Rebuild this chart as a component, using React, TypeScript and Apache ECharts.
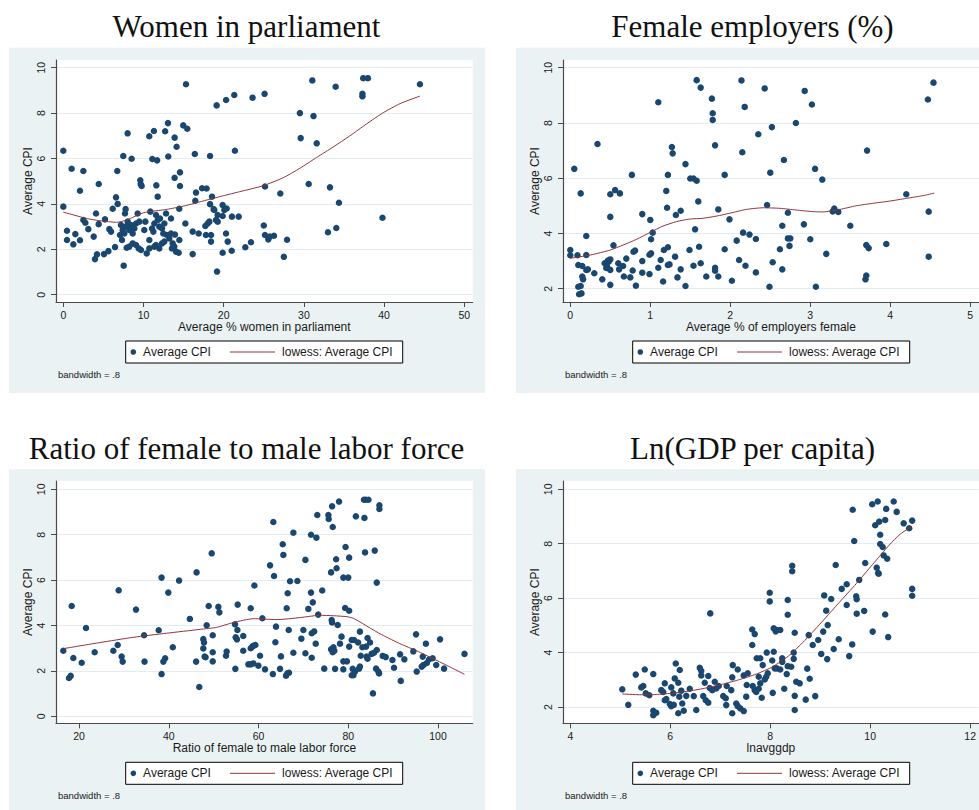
import React, { useEffect, useRef } from "react";
import * as echarts from "echarts";

// ---------- DATA ----------
const titles = [
  "Women in parliament",
  "Female employers (%)",
  "Ratio of female to male labor force",
  "Ln(GDP per capita)",
];
const xNames = [
  "Average % women in parliament",
  "Average % of employers female",
  "Ratio of female to male labor force",
  "lnavggdp",
];
const yName = "Average CPI";
const legendLabels = ["Average CPI", "lowess: Average CPI"];
const noteText = "bandwidth = .8";

const xTicks1 = [0, 10, 20, 30, 40, 50];
const xTicks2 = [0, 1, 2, 3, 4, 5];
const xTicks3 = [20, 40, 60, 80, 100];
const xTicks4 = [4, 6, 8, 10, 12];
const yTicks1 = [0, 2, 4, 6, 8, 10];
const yTicks2 = [2, 4, 6, 8, 10];
const yTicks3 = [0, 2, 4, 6, 8, 10];
const yTicks4 = [2, 4, 6, 8, 10];

const womenPts: [number, number][] = [
  [0, 6.34], [1.04, 5.55], [2.5, 5.45], [6.73, 5.45], [7.48, 6.11], [8.02, 7.11], [8.52, 5.99], [10.72, 6.98],
  [11.1, 5.98], [11.3, 7.21], [11.7, 5.92], [12.7, 7.2], [13.05, 7.56], [13.09, 6.09], [13.88, 6.92], [13.88, 5.15],
  [14.13, 6.52], [14.55, 5.39], [14.96, 7.46], [15.3, 9.27], [15.46, 7.31], [16.4, 6.2], [18.3, 6.11], [19.12, 8.34],
  [20.3, 8.58], [21.32, 8.8], [21.4, 6.34], [23.6, 8.68],
  [25.0, 3.05], [25.1, 8.85], [25.15, 4.77], [25.15, 2.63], [25.56, 2.44], [25.77, 2.56], [26.27, 2.6], [27.06, 4.46],
  [27.5, 1.67], [27.9, 2.42], [29.5, 8.0], [29.6, 6.9], [30.6, 4.88], [31.05, 9.44], [31.2, 7.87], [31.6, 6.67],
  [33.0, 2.75], [33.25, 4.73], [33.96, 9.16], [34.04, 2.94], [34.37, 4.05], [37.3, 8.74], [37.3, 8.85], [37.4, 9.54],
  [37.98, 9.54], [39.8, 3.39], [44.47, 9.27],
  [0, 3.88], [2.08, 4.58], [4.42, 4.88], [0.46, 2.82], [0.46, 2.41], [1.25, 2.22], [1.5, 2.67], [2.08, 2.4],
  [2.5, 3.29], [2.75, 3.17], [3.12, 2.89], [3.79, 2.56], [3.95, 1.57], [4.2, 1.78], [4.08, 3.58], [4.41, 3.11],
  [5.07, 1.79], [5.2, 3.32], [5.62, 1.92], [5.74, 2.89], [5.95, 2.78], [6.16, 3.79], [6.57, 4.29], [6.78, 4.0],
  [6.45, 2.1], [7.53, 1.28], [7.19, 3.07], [7.4, 2.85], [7.07, 2.63], [7.32, 2.41], [7.61, 2.7], [7.82, 3.0],
  [8.03, 3.22], [8.23, 2.85], [8.44, 3.07], [8.65, 2.7], [8.86, 2.92], [9.07, 3.14], [9.27, 3.58], [9.48, 3.22],
  [7.9, 2.07], [8.23, 2.12], [8.65, 2.26], [9.07, 2.19], [9.4, 2.04], [9.69, 1.97], [10.1, 2.85], [10.23, 3.22],
  [10.4, 1.82], [10.73, 2.41], [10.85, 3.66], [11.06, 2.92], [11.23, 2.78], [11.35, 3.14], [11.56, 3.51], [11.77, 3.29],
  [11.97, 3.0], [12.06, 3.36], [12.31, 2.92], [12.47, 2.7], [12.6, 3.14], [12.81, 3.58], [10.73, 2.04], [11.35, 2.12],
  [11.56, 2.19], [11.97, 2.04], [12.31, 2.26], [12.6, 2.34], [12.93, 2.63], [13.22, 2.48], [13.43, 2.7], [13.64, 2.26],
  [13.55, 2.04], [13.84, 2.12], [14.05, 1.9], [14.39, 1.85], [14.47, 2.41], [13.43, 3.36], [13.92, 2.65], [15.22, 3.14],
  [16.13, 2.78], [16.13, 1.79], [16.88, 2.7], [17.71, 3.03], [18.0, 3.14], [18.21, 3.22], [17.79, 2.63], [18.42, 2.63],
  [18.42, 2.34], [18.83, 3.73], [19.04, 3.29], [19.25, 3.51], [19.25, 3.22], [19.87, 3.95], [20.08, 3.73], [20.37, 3.8],
  [19.87, 3.47], [21.03, 3.44], [21.87, 3.44], [20.29, 2.7], [20.5, 2.34], [21.0, 1.94], [19.87, 1.85], [19.17, 1.02],
  [22.7, 2.09], [23.4, 2.31], [16.55, 4.5], [16.46, 4.14], [18.54, 4.32], [17.3, 4.69], [17.87, 4.68], [18.3, 3.99],
  [18.75, 3.77], [14.55, 4.79], [14.46, 3.79], [11.77, 4.32], [11.6, 4.82], [9.6, 5.04], [9.65, 4.88], [9.77, 4.79],
  [7.69, 3.58], [7.77, 3.77],
];
const womenLowess: [number, number][] = [
  [0, 3.64], [2.9, 3.36], [4.57, 3.26], [6.65, 3.19], [7.9, 3.29], [10, 3.61], [12.9, 3.76], [14.96, 3.9],
  [17.87, 4.17], [19.95, 4.36], [22, 4.54], [24.9, 4.8], [27.4, 5.15], [29.5, 5.57], [31.6, 6.05], [33.7, 6.52],
  [35.7, 6.99], [37.8, 7.52], [39.9, 8.02], [42, 8.42], [44.47, 8.75],
];

const employersPts: [number, number][] = [
  [0, 3.4], [0, 3.21], [0.05, 6.34], [0.09, 3.21], [0.1, 2.86], [0.1, 2.07], [0.11, 1.8], [0.13, 5.45],
  [0.14, 1.83], [0.13, 2.1], [0.15, 2.82], [0.15, 2.44], [0.16, 2.34], [0.2, 3.91], [0.2, 3.22], [0.2, 2.68],
  [0.22, 2.7], [0.3, 2.56], [0.34, 7.24], [0.4, 2.34], [0.43, 2.92], [0.46, 2.8], [0.48, 2.98], [0.5, 3.06],
  [0.5, 5.42], [0.5, 4.6], [0.5, 2.14], [0.5, 2.68], [0.54, 3.57], [0.56, 5.57], [0.6, 2.92], [0.61, 2.7],
  [0.62, 5.45], [0.66, 2.82], [0.67, 2.44], [0.7, 3.09], [0.75, 2.41], [0.77, 6.12], [0.78, 2.66], [0.79, 3.34],
  [0.82, 2.11], [0.9, 4.7], [0.9, 3.0], [0.9, 2.58], [0.99, 2.53], [0.99, 3.23], [1.0, 4.49], [1.01, 3.28],
  [1.01, 3.79], [1.03, 4.03], [1.1, 2.76], [1.1, 8.75], [1.13, 3.04], [1.16, 2.26], [1.17, 3.4], [1.2, 5.54],
  [1.21, 4.93], [1.22, 2.86], [1.22, 3.5], [1.22, 6.12], [1.24, 2.88], [1.27, 7.13], [1.28, 6.9], [1.31, 3.16],
  [1.32, 4.67], [1.34, 2.41], [1.38, 4.82], [1.38, 2.7], [1.44, 6.51], [1.44, 2.1], [1.49, 3.4], [1.5, 5.99],
  [1.54, 5.99], [1.56, 4.15], [1.54, 2.83], [1.58, 9.55], [1.58, 5.91], [1.6, 5.16], [1.61, 3.52], [1.63, 2.92],
  [1.63, 9.28], [1.7, 2.44], [1.77, 8.88], [1.78, 8.35], [1.78, 8.11], [1.81, 7.19], [1.81, 2.76], [1.81, 2.65],
  [1.85, 4.87], [1.85, 2.44], [1.93, 6.12], [1.93, 3.43], [1.99, 4.51], [2.02, 2.29], [2.08, 3.74], [2.11, 3.04],
  [2.14, 9.54], [2.15, 6.94], [2.16, 4.03], [2.18, 8.58], [2.19, 2.83], [2.24, 3.96], [2.32, 3.8], [2.32, 2.59],
  [2.35, 7.59], [2.43, 9.25], [2.46, 5.03], [2.49, 2.07], [2.5, 6.2], [2.52, 7.85], [2.53, 2.96], [2.62, 3.43],
  [2.65, 4.28], [2.65, 2.7], [2.67, 6.66], [2.72, 4.75], [2.72, 3.82], [2.74, 3.55], [2.75, 3.82], [2.82, 8.0],
  [2.92, 4.33], [2.93, 9.16], [3.0, 3.79], [3.02, 8.67], [3.06, 6.34], [3.07, 2.07], [3.15, 5.95], [3.2, 3.26],
  [3.28, 4.8], [3.3, 4.9], [3.35, 4.78], [3.5, 4.28], [3.69, 2.34], [3.7, 2.48], [3.7, 3.58], [3.71, 7.0],
  [3.73, 3.47], [3.95, 3.62], [4.2, 5.42], [4.47, 8.85], [4.48, 4.79], [4.48, 3.16], [4.54, 9.46], [0.45, 2.75],
  [0.47, 3.02], [0.81, 3.38],
];
const employersLowess: [number, number][] = [
  [0, 3.1], [0.25, 3.22], [0.5, 3.4], [0.66, 3.58], [0.83, 3.79], [1.0, 4.04], [1.16, 4.27], [1.33, 4.43],
  [1.49, 4.52], [1.66, 4.55], [1.83, 4.63], [1.99, 4.73], [2.2, 4.87], [2.41, 4.93], [2.62, 4.91], [2.82, 4.85],
  [3.03, 4.79], [3.16, 4.78], [3.37, 4.87], [3.57, 5.0], [3.78, 5.09], [3.99, 5.17], [4.2, 5.27], [4.41, 5.37],
  [4.55, 5.46],
];

const laborPts: [number, number][] = [
  [16.5, 2.89], [17.77, 1.69], [18.14, 1.78], [18.37, 4.86], [18.74, 2.57], [20.6, 2.36], [21.56, 3.89], [23.49, 2.82],
  [27.65, 2.89], [28.62, 3.14], [28.84, 5.55], [29.5, 2.63], [29.73, 2.41], [32.7, 4.7], [34.5, 3.57], [34.6, 2.41],
  [37.76, 3.79], [38.4, 6.11], [38.4, 1.86], [38.8, 2.41], [39.2, 2.56], [39.9, 5.45], [40.9, 3.04], [42.3, 5.98],
  [44.7, 4.29], [46.1, 2.41], [46.2, 6.34], [46.8, 1.29], [47.7, 3.4], [47.86, 3.25], [47.7, 2.99], [48.0, 2.63],
  [48.2, 2.6], [48.45, 4.01], [48.9, 4.86], [49.57, 7.18], [49.8, 3.57], [49.8, 2.82], [49.8, 2.42], [51.05, 4.82],
  [51.28, 4.58], [52.76, 2.67], [52.9, 2.85], [54.77, 4.05], [54.92, 3.48], [55.2, 3.39], [54.84, 2.09], [55.3, 3.8],
  [55.36, 4.92], [56.6, 3.54], [56.6, 2.89], [57.74, 2.29], [58.26, 2.29], [58.86, 2.33], [58.26, 4.76], [58.26, 3.0],
  [58.63, 3.07], [58.86, 3.11], [59.3, 3.14], [59.08, 5.76], [59.97, 2.23], [60.34, 2.67], [60.86, 4.32], [61.45, 2.07],
  [62.57, 6.65], [63.3, 8.56], [63.2, 1.86], [63.46, 6.18], [63.76, 3.26], [63.9, 3.95], [64.8, 2.09], [65.0, 2.64],
  [65.4, 7.58], [65.54, 7.11], [66.13, 1.79], [66.43, 1.89], [66.8, 1.92], [66.28, 4.76], [66.5, 5.42], [66.73, 3.8],
  [67.03, 5.95], [67.77, 2.8], [67.77, 8.09], [68.66, 5.96], [69.55, 3.42], [70.0, 3.8], [70.45, 6.89], [70.45, 2.78],
  [71.1, 4.73], [71.7, 8.0], [71.7, 5.45], [71.86, 2.58], [71.86, 3.66], [72.4, 3.74], [72.1, 5.02], [72.75, 3.2],
  [72.9, 7.87], [73.1, 8.87], [73.3, 4.48], [74.2, 5.54], [74.65, 2.1], [75.57, 8.87], [75.65, 8.69], [76.17, 2.95],
  [76.7, 3.04], [76.17, 6.34], [76.3, 4.24], [76.4, 4.13], [76.4, 9.25], [76.54, 8.34], [76.54, 2.82], [76.9, 2.89],
  [77.06, 2.09], [77.3, 6.92], [77.4, 6.52], [77.65, 4.02], [77.95, 9.46], [78.17, 3.2], [78.5, 3.51], [78.9, 6.11],
  [80.0, 6.11], [78.9, 2.42], [79.7, 2.42], [78.9, 2.07], [79.3, 4.77], [79.4, 7.46], [80.2, 4.65], [80.2, 3.07],
  [80.2, 6.99], [80.77, 3.36], [81.3, 3.36], [80.77, 1.81], [81.15, 1.81], [81.5, 1.97], [80.98, 2.09], [81.7, 8.81],
  [82.2, 3.25], [82.6, 3.73], [82.4, 2.1], [82.6, 2.19], [82.78, 2.67], [83.15, 3.04], [83.5, 9.54], [83.9, 9.54],
  [84.5, 9.54], [83.6, 8.74], [83.74, 7.22], [83.97, 3.07], [84.1, 2.63], [84.3, 2.54], [84.3, 3.45], [84.86, 3.25],
  [85.2, 2.75], [85.5, 1.01], [85.75, 2.8], [85.9, 7.3], [86.2, 2.1], [86.35, 5.89], [86.35, 2.92], [86.7, 1.97],
  [86.87, 1.89], [86.94, 9.3], [86.94, 9.13], [87.68, 2.66], [88.35, 2.61], [89.84, 2.48], [90.2, 2.14], [91.55, 2.73],
  [91.7, 1.56], [92.5, 2.51], [94.5, 2.86], [95.1, 3.61], [95.26, 1.97], [96.37, 2.19], [96.75, 2.26], [96.6, 2.63],
  [97.3, 3.2], [97.5, 2.35], [98.0, 2.5], [98.8, 2.56], [99.6, 2.26], [100.46, 3.39], [101.35, 2.1], [105.9, 2.75],
];
const laborLowess: [number, number][] = [
  [16.5, 2.98], [24.7, 3.25], [32.1, 3.48], [39.5, 3.66], [47.0, 3.83], [50.7, 3.92], [54.4, 4.13], [58.9, 4.3],
  [64.1, 4.26], [69.3, 4.35], [73.7, 4.45], [76.7, 4.43], [79.7, 4.39], [81.1, 4.32], [82.6, 4.16], [85.6, 3.8],
  [87.8, 3.56], [91.5, 3.2], [95.3, 2.88], [99.0, 2.53], [102.7, 2.17], [105.9, 1.85],
];

const gdpPts: [number, number][] = [
  [5.04, 2.65], [5.16, 2.08], [5.31, 3.19], [5.42, 2.72], [5.46, 2.77], [5.49, 3.38], [5.51, 2.5], [5.58, 2.43],
  [5.66, 3.21], [5.66, 1.86], [5.66, 1.7], [5.72, 1.79], [5.82, 2.62], [5.86, 2.55], [5.89, 2.87], [5.89, 2.25],
  [5.92, 2.29], [6.02, 2.72], [6.06, 2.5], [5.99, 2.11], [6.02, 2.03], [6.07, 2.08], [6.09, 3.05], [6.11, 3.6],
  [6.16, 2.89], [6.18, 2.38], [6.16, 1.77], [6.19, 3.36], [6.22, 2.6], [6.24, 2.13], [6.27, 1.86], [6.32, 2.41],
  [6.39, 2.67], [6.47, 2.4], [6.52, 1.89], [6.59, 3.44], [6.62, 3.33], [6.62, 3.16], [6.66, 2.4], [6.69, 2.89],
  [6.71, 2.25], [6.76, 3.14], [6.76, 2.16], [6.8, 5.44], [6.79, 2.7], [6.84, 2.62], [6.89, 2.93], [6.92, 2.68],
  [6.97, 2.77], [7.06, 2.4], [7.11, 2.32], [7.12, 2.07], [7.13, 2.77], [7.22, 2.62], [7.24, 1.77], [7.25, 3.54],
  [7.24, 3.09], [7.32, 2.13], [7.35, 2.03], [7.35, 3.38], [7.4, 1.95], [7.47, 1.85], [7.47, 3.16], [7.52, 2.38],
  [7.53, 2.81], [7.55, 3.24], [7.64, 4.28], [7.64, 4.85], [7.69, 4.68], [7.65, 2.77], [7.69, 2.62], [7.72, 2.55],
  [7.77, 2.67], [7.73, 3.79], [7.8, 3.79], [7.77, 3.11], [7.8, 2.87], [7.83, 2.34], [7.85, 3.54], [7.89, 3.01],
  [7.92, 3.11], [7.93, 4.0], [7.95, 3.24], [7.99, 6.2], [7.99, 5.88], [8.04, 3.71], [8.05, 2.52], [8.07, 4.89],
  [8.11, 4.78], [8.13, 4.83], [8.2, 4.83], [8.07, 4.03], [8.09, 3.42], [8.13, 3.42], [8.2, 3.38], [8.24, 3.79],
  [8.24, 3.66], [8.28, 2.67], [8.33, 3.21], [8.35, 5.39], [8.35, 5.93], [8.35, 3.5], [8.42, 3.48], [8.44, 7.19],
  [8.44, 6.99], [8.47, 4.0], [8.47, 3.77], [8.49, 4.73], [8.49, 2.41], [8.49, 1.89], [8.52, 2.93], [8.59, 2.87],
  [8.71, 2.27], [8.74, 3.41], [8.77, 4.64], [8.79, 3.04], [8.85, 4.28], [8.9, 2.4], [8.96, 4.46], [9.02, 3.95],
  [9.06, 4.77], [9.08, 6.1], [9.12, 5.54], [9.14, 3.76], [9.15, 5.01], [9.22, 5.97], [9.27, 4.13], [9.31, 7.22],
  [9.37, 4.49], [9.43, 6.34], [9.53, 6.51], [9.53, 5.75], [9.58, 3.87], [9.64, 4.3], [9.65, 9.25], [9.68, 8.1],
  [9.72, 6.07], [9.73, 5.96], [9.73, 5.43], [9.78, 6.67], [9.88, 5.53], [9.9, 7.29], [10.04, 9.45], [10.05, 4.77],
  [10.1, 8.68], [10.13, 7.12], [10.15, 9.55], [10.16, 6.92], [10.17, 6.9], [10.18, 8.81], [10.2, 8.33], [10.2, 7.99],
  [10.25, 7.88], [10.27, 7.57], [10.3, 8.87], [10.3, 5.4], [10.32, 9.28], [10.34, 7.45], [10.36, 4.57], [10.47, 9.55],
  [10.53, 9.17], [10.67, 8.75], [10.78, 8.57], [10.84, 8.85], [10.84, 6.34], [10.84, 6.09],
];
const gdpLowess: [number, number][] = [
  [5.04, 2.48], [5.39, 2.45], [5.72, 2.46], [6.06, 2.51], [6.39, 2.59], [6.72, 2.7], [7.05, 2.84], [7.39, 3.01],
  [7.72, 3.21], [8.05, 3.48], [8.39, 3.91], [8.72, 4.5], [9.05, 5.16], [9.38, 5.84], [9.72, 6.53], [10.05, 7.24],
  [10.38, 7.95], [10.6, 8.35], [10.84, 8.65],
];

// ---------- LAYOUT / STYLE ----------
const NAVY = "#1A476F";
const MAROON = "#90353B";
const BG = "#EAF2F3";
const GRID_LINE = "#E3ECEF";
const AXIS = "#4a4a4a";
const TXT = "#1a1a1a";
const SANS = "Liberation Sans, Arial, sans-serif";
const SERIF = "Liberation Serif, Times New Roman, serif";

const panels = [
  { bg: [9, 47.7, 476, 345.3], plot: [56, 60, 416.7, 242], title: [246.5, 26.2], xr: [-0.91, 51.05], yr: [-0.32, 10.34],
    pts: womenPts, low: womenLowess, xt: xTicks1, yt: yTicks1 },
  { bg: [516, 47.7, 476, 345.3], plot: [563, 60, 416.7, 242], title: [752.5, 26.2], xr: [-0.091, 5.109], yr: [1.519, 10.279],
    pts: employersPts, low: employersLowess, xt: xTicks2, yt: yTicks2 },
  { bg: [9, 469.3, 476, 345], plot: [56, 481, 416.7, 242.3], title: [246.5, 448.8], xr: [14.875, 107.73], yr: [-0.308, 10.366],
    pts: laborPts, low: laborLowess, xt: xTicks3, yt: yTicks3 },
  { bg: [516, 469.3, 476, 345], plot: [563, 481, 416.7, 242.3], title: [752.5, 448.8], xr: [3.854, 12.173], yr: [1.401, 10.305],
    pts: gdpPts, low: gdpLowess, xt: xTicks4, yt: yTicks4 },
];

function buildOption() {
  const graphic: any[] = [];
  panels.forEach((p, i) => {
    const [bx, by, bw, bh] = p.bg;
    const [px, py, pw, ph] = p.plot;
    graphic.push({ type: "rect", z: -20, silent: true, shape: { x: bx, y: by, width: bw, height: bh }, style: { fill: BG } });
    graphic.push({ type: "rect", z: -19, silent: true, shape: { x: px, y: py, width: pw, height: ph }, style: { fill: "#ffffff" } });
    graphic.push({
      type: "text", z: 5, x: p.title[0], y: p.title[1],
      style: { text: titles[i], fontFamily: SERIF, fontSize: 31, fill: "#111", align: "center", verticalAlign: "middle" },
    });
    const lx = px + 69.7;
    const ly = py + ph + 39;
    const cy = ly + 11;
    graphic.push({ type: "rect", z: 5, shape: { x: lx, y: ly, width: 277, height: 22 }, style: { fill: "#fff", stroke: "#000", lineWidth: 1 } });
    graphic.push({ type: "circle", z: 6, shape: { cx: lx + 7.6, cy, r: 2.8 }, style: { fill: NAVY } });
    graphic.push({ type: "text", z: 6, x: lx + 17.4, y: cy, style: { text: legendLabels[0], fontFamily: SANS, fontSize: 12, fill: TXT, align: "left", verticalAlign: "middle" } });
    graphic.push({ type: "line", z: 6, shape: { x1: lx + 104.3, y1: cy, x2: lx + 149.3, y2: cy }, style: { stroke: MAROON, lineWidth: 1 } });
    graphic.push({ type: "text", z: 6, x: lx + 156.4, y: cy, style: { text: legendLabels[1], fontFamily: SANS, fontSize: 12, fill: TXT, align: "left", verticalAlign: "middle" } });
    graphic.push({ type: "text", z: 6, x: px + 2, y: py + ph + 72, style: { text: noteText, fontFamily: SANS, fontSize: 9.5, fill: TXT, align: "left", verticalAlign: "middle" } });
  });

  return {
    animation: false,
    backgroundColor: "#ffffff",
    grid: panels.map((p) => ({ left: p.plot[0], top: p.plot[1], width: p.plot[2], height: p.plot[3], show: false, containLabel: false })),
    xAxis: panels.map((p, i) => ({
      type: "value", gridIndex: i, min: p.xr[0], max: p.xr[1],
      name: xNames[i], nameLocation: "middle", nameGap: 18,
      nameTextStyle: { fontFamily: SANS, fontSize: 12, color: TXT },
      axisLine: { show: true, onZero: false, lineStyle: { color: AXIS, width: 1.2 } },
      axisTick: { show: true, length: 5, customValues: p.xt, lineStyle: { color: AXIS, width: 1 } },
      axisLabel: { customValues: p.xt, margin: 7, fontFamily: SANS, fontSize: 10.5, color: TXT },
      splitLine: { show: false },
    })),
    yAxis: panels.map((p, i) => ({
      type: "value", gridIndex: i, min: p.yr[0], max: p.yr[1],
      name: yName, nameLocation: "middle", nameGap: 22,
      nameTextStyle: { fontFamily: SANS, fontSize: 12, color: TXT },
      axisLine: { show: true, onZero: false, lineStyle: { color: AXIS, width: 1.2 } },
      axisTick: { show: true, length: 5, customValues: p.yt, lineStyle: { color: AXIS, width: 1 } },
      axisLabel: { customValues: p.yt, margin: 9.5, rotate: 90, fontFamily: SANS, fontSize: 10.5, color: TXT },
      splitLine: { show: true, lineStyle: { color: GRID_LINE, width: 1 } },
    })),
    series: panels.flatMap((p, i) => [
      {
        type: "scatter", name: legendLabels[0], xAxisIndex: i, yAxisIndex: i, data: p.pts,
        symbol: "circle", symbolSize: 6.5, itemStyle: { color: NAVY, opacity: 1 }, z: 3,
      },
      {
        type: "line", name: legendLabels[1], xAxisIndex: i, yAxisIndex: i, data: p.low,
        symbol: "none", smooth: 0.2, lineStyle: { color: MAROON, width: 1 }, z: 4,
      },
    ]),
    graphic,
  };
}

export default function App() {
  const ref = useRef<HTMLDivElement>(null);
  useEffect(() => {
    if (!ref.current) return;
    const chart = echarts.init(ref.current, undefined, { renderer: "svg" });
    chart.setOption(buildOption() as any);
    return () => chart.dispose();
  }, []);
  return (
    <div
      ref={ref}
      style={{ position: "fixed", left: 0, top: 0, width: 979, height: 810, background: "#fff" }}
    />
  );
}
